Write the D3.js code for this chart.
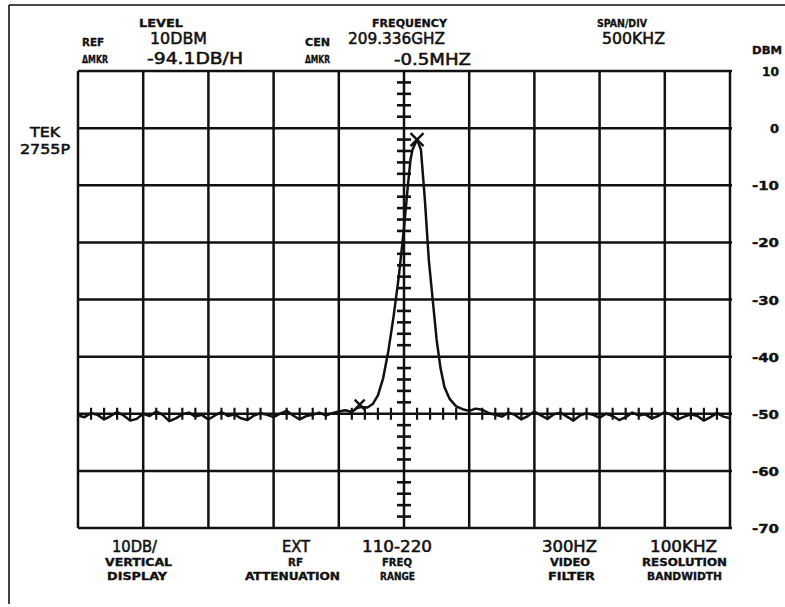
<!DOCTYPE html>
<html><head><meta charset="utf-8">
<script src="https://cdn.jsdelivr.net/npm/d3@7"></script>
<style>
html,body{margin:0;padding:0;background:#fff;}
svg{display:block;}
text{fill:#111;}
</style></head>
<body>
<script>
// ---- data ----
const freqTicksMHz = [-2.5,-2.0,-1.5,-1.0,-0.5,0,0.5,1.0,1.5,2.0,2.5];
const levelTicks = [10,0,-10,-20,-30,-40,-50,-60,-70];
const levelTickLabels = ["10","0","-10","-20","-30","-40","-50","-60","-70"];

const traceFreq = [
 -2.50,-2.45,-2.40,-2.35,-2.30,-2.25,-2.20,-2.15,-2.10,-2.05,
 -2.00,-1.95,-1.90,-1.85,-1.80,-1.75,-1.70,-1.65,-1.60,-1.55,
 -1.50,-1.45,-1.40,-1.35,-1.30,-1.25,-1.20,-1.15,-1.10,-1.05,
 -1.00,-0.95,-0.90,-0.85,-0.80,-0.75,-0.70,-0.65,-0.60,-0.55,
 -0.50,-0.45,-0.40,-0.36,-0.32,-0.28,-0.24,-0.20,-0.16,-0.12,
 -0.08,-0.04,0.00,0.03,0.05,0.065,0.08,0.10,0.13,0.16,
 0.19,0.22,0.25,0.28,0.31,0.35,0.40,0.45,0.50,0.55,
 0.60,0.65,0.70,
 0.75,0.80,0.85,0.90,0.95,1.00,1.05,1.10,1.15,1.20,
 1.25,1.30,1.35,1.40,1.45,1.50,1.55,1.60,1.65,1.70,
 1.75,1.80,1.85,1.90,1.95,2.00,2.05,2.10,2.15,2.20,
 2.25,2.30,2.35,2.40,2.45,2.50
];
const traceLevel = [
 -50.3,-50.6,-49.9,-50.2,-51.0,-50.4,-49.7,-50.3,-51.2,-50.9,
 -50.0,-50.4,-49.6,-50.2,-51.3,-50.8,-50.1,-49.8,-50.5,-50.2,
 -51.0,-50.3,-49.7,-50.4,-50.1,-50.8,-51.1,-50.3,-49.9,-50.2,
 -50.6,-50.0,-49.5,-50.3,-51.0,-50.4,-50.2,-49.8,-50.3,-49.9,
 -49.6,-49.4,-49.7,-49.0,-48.8,-48.9,-48.3,-46.8,-43.8,-39.0,
 -33.0,-26.0,-17.5,-10.0,-5.5,-3.8,-3.0,-2.0,-3.8,-12.5,
 -23.0,-30.0,-37.0,-42.0,-45.3,-47.4,-48.7,-49.2,-49.5,-49.1,
 -49.3,-49.9,-50.2,
 -50.5,-49.8,-50.2,-51.0,-50.4,-49.6,-50.3,-50.9,-50.1,-49.8,
 -50.5,-51.2,-50.3,-49.9,-50.2,-50.7,-50.0,-50.4,-51.1,-50.6,
 -49.8,-50.3,-50.1,-50.8,-50.4,-49.7,-50.2,-51.0,-50.5,-50.1,
 -50.4,-51.2,-50.6,-49.9,-50.5,-50.8
];
const markerFreq = [0.10, -0.34];
const markerLevel = [-2.0, -48.4];
const markerSize = [13, 10];

const bottomTop = ["10DB/","EXT","110-220","300HZ","100KHZ"];
const bottomMid = ["VERTICAL","RF","FREQ","VIDEO","RESOLUTION"];
const bottomLow = ["DISPLAY","ATTENUATION","RANGE","FILTER","BANDWIDTH"];

// ---- drawing ----
const W = 785, H = 607;
const svg = d3.select("body").append("svg").attr("width", W).attr("height", H);
const ink = "#111";
const NARROW = "'Liberation Sans Narrow','DejaVu Sans Condensed','Arial Narrow',sans-serif";

const x = d3.scaleLinear().domain([-2.5, 2.5]).range([78, 730]);
const y = d3.scaleLinear().domain([-70, 10]).range([528, 71]);

// outer photo border
svg.append("line").attr("x1",9).attr("x2",785).attr("y1",5).attr("y2",5).attr("stroke",ink).attr("stroke-width",1.6);
svg.append("line").attr("x1",9).attr("x2",9).attr("y1",5).attr("y2",604).attr("stroke",ink).attr("stroke-width",1.6);

const g = svg.append("g");
// vertical grid
g.selectAll("line.v").data(freqTicksMHz).join("line")
  .attr("x1", d => x(d)).attr("x2", d => x(d))
  .attr("y1", y(10)).attr("y2", y(-70))
  .attr("stroke", ink).attr("stroke-width", 2.5);
// horizontal grid
g.selectAll("line.h").data(levelTicks).join("line")
  .attr("x1", x(-2.5)).attr("x2", x(2.5) + 2)
  .attr("y1", d => y(d)).attr("y2", d => y(d))
  .attr("stroke", ink).attr("stroke-width", 2.5);

// minor ticks on center vertical line
const vMinor = d3.range(-68, 10, 2).filter(v => v % 10 !== 0);
g.selectAll("line.vm").data(vMinor).join("line")
  .attr("x1", x(0) - 7).attr("x2", x(0) + 7)
  .attr("y1", d => y(d)).attr("y2", d => y(d))
  .attr("stroke", ink).attr("stroke-width", 2.6);
// minor ticks on -50 line
const hMinor = d3.range(-2.4, 2.5, 0.1).filter(v => Math.abs(Math.round(v * 10) % 5) !== 0);
g.selectAll("line.hm").data(hMinor).join("line")
  .attr("x1", d => x(d)).attr("x2", d => x(d))
  .attr("y1", y(-50) - 6).attr("y2", y(-50) + 6)
  .attr("stroke", ink).attr("stroke-width", 2.2);

// trace
const pts = traceFreq.map((f, i) => [f, traceLevel[i]]);
svg.append("path")
  .attr("d", d3.line().x(d => x(d[0])).y(d => y(d[1]))(pts))
  .attr("fill", "none").attr("stroke", ink).attr("stroke-width", 2.5)
  .attr("stroke-linejoin", "round");

// markers
markerFreq.forEach((f, i) => {
  const cx = x(f), cy = y(markerLevel[i]), s = markerSize[i] / 2;
  svg.append("path")
    .attr("d", `M${cx - s},${cy - s}L${cx + s},${cy + s}M${cx - s},${cy + s}L${cx + s},${cy - s}`)
    .attr("stroke", ink).attr("stroke-width", 2.4).attr("fill", "none");
});

// text helper
function txt(str, x0, x1, base, size, bold) {
  svg.append("text")
    .attr("x", x0).attr("y", base)
    .attr("font-family", NARROW)
    .attr("font-size", size)
    .attr("font-weight", bold ? "bold" : "normal")
    .attr("stroke", ink).attr("stroke-width", bold ? 0.3 : 0.5)
    .attr("textLength", x1 - x0).attr("lengthAdjust", "spacingAndGlyphs")
    .text(str);
}

// header
txt("LEVEL", 139, 183, 27, 11, true);
txt("REF", 82, 104, 46, 11, true);
txt("10DBM", 150, 207, 44, 16, false);
txt("ΔMKR", 82, 108, 63, 10, true);
txt("-94.1DB/H", 147, 243, 64, 16, false);
txt("FREQUENCY", 372, 447, 27, 11, true);
txt("CEN", 305, 330, 46, 11, true);
txt("209.336GHZ", 348, 445, 44, 16, false);
txt("ΔMKR", 305, 330, 63, 10, true);
txt("-0.5MHZ", 394, 471, 65, 16, false);
txt("SPAN/DIV", 597, 647, 27, 11, true);
txt("500KHZ", 602, 665, 44, 16, false);
txt("DBM", 752, 782, 54, 11, true);

// right axis labels
levelTicks.forEach((v, i) => {
  const lab = levelTickLabels[i];
  const len = lab.startsWith("-") ? 27 : (lab.length === 2 ? 17 : 9);
  svg.append("text")
    .attr("x", 779).attr("y", y(v) + 5)
    .attr("text-anchor", "end")
    .attr("font-family", "'DejaVu Sans',sans-serif")
    .attr("font-weight", "bold").attr("font-size", 12)
    .attr("stroke", ink).attr("stroke-width", 0.4)
    .attr("textLength", len).attr("lengthAdjust", "spacingAndGlyphs")
    .text(lab);
});

// TEK label
txt("TEK", 30, 60, 137, 14, false);
txt("2755P", 20, 70, 154, 14, false);

// bottom labels
const colX = [[112,157],[282,310],[362,432],[542,597],[650,717]];
const midX = [[105,172],[288,303],[382,412],[550,590],[642,727]];
const lowX = [[107,167],[245,340],[380,415],[548,595],[647,722]];
bottomTop.forEach((s, i) => txt(s, colX[i][0], colX[i][1], 552, 15, false));
bottomMid.forEach((s, i) => txt(s, midX[i][0], midX[i][1], 566, 10, true));
bottomLow.forEach((s, i) => txt(s, lowX[i][0], lowX[i][1], 580, 10, true));
</script>
</body></html>
